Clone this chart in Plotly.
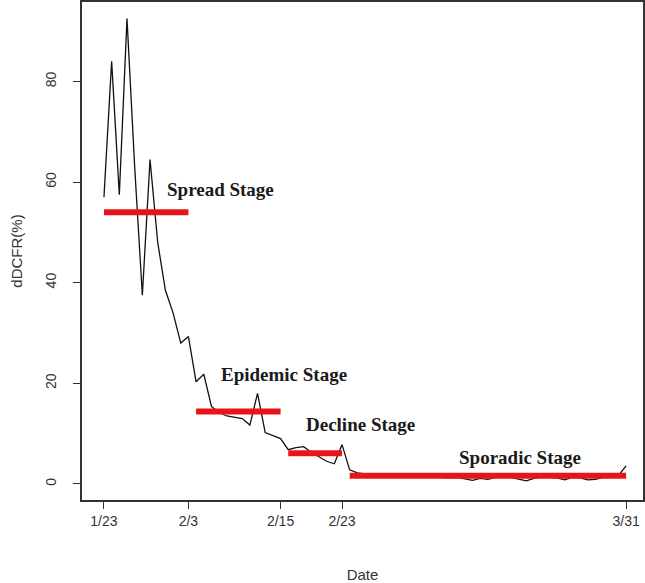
import pandas as pd
import plotly.graph_objects as go

# daily dDCFR(%) from 1/23 to 3/31
start_date = "2020-01-23"
dDCFR = [57, 84, 57.5, 92.5, 63, 37.5, 64.5, 48, 38.5, 34,
         28, 29.3, 20.3, 21.8, 15.4, 14.2, 13.5, 13.3, 13.0, 11.7,
         18, 10.2, 9.6, 9.0, 6.8, 7.2, 7.4, 6.3, 5.4, 4.5,
         4.0, 7.8, 2.8, 2.2, 2.0, 1.8, 1.7, 1.6, 1.5, 1.5,
         1.4, 1.4, 1.3, 1.4, 1.3, 1.2, 1.3, 1.0, 0.7, 1.1,
         0.9, 1.3, 1.4, 1.3, 1.0, 0.6, 1.1, 1.4, 1.3, 1.2,
         0.8, 1.3, 1.2, 0.8, 0.9, 1.3, 1.4, 1.7, 3.6]
dates = pd.date_range(start_date, periods=len(dDCFR), freq="D")

# stages: name, first day, last day, mean level, label position
stage_names = ["Spread Stage", "Epidemic Stage", "Decline Stage", "Sporadic Stage"]
stage_start = ["2020-01-23", "2020-02-04", "2020-02-16", "2020-02-24"]
stage_end = ["2020-02-03", "2020-02-15", "2020-02-23", "2020-03-31"]
stage_level = [54, 14.4, 6.1, 1.6]
label_x = ["2020-01-31", "2020-02-07", "2020-02-18", "2020-03-09"]
label_y = [58.6, 21.8, 11.9, 5.3]

tick_dates = ["2020-01-23", "2020-02-03", "2020-02-15", "2020-02-23", "2020-03-31"]
tick_text = ["1/23", "2/3", "2/15", "2/23", "3/31"]

fig = go.Figure()

fig.add_trace(go.Scatter(x=dates, y=dDCFR, mode="lines",
                         line=dict(color="#111111", width=1.3),
                         showlegend=False))

for s, e, lv in zip(stage_start, stage_end, stage_level):
    fig.add_trace(go.Scatter(x=[s, e], y=[lv, lv], mode="lines",
                             line=dict(color="#e8141b", width=6),
                             showlegend=False))

for name, lx, ly in zip(stage_names, label_x, label_y):
    fig.add_annotation(x=lx, y=ly, text="<b>" + name + "</b>", showarrow=False,
                       xanchor="left", yanchor="middle",
                       font=dict(family="Liberation Serif", size=19, color="#1a1a1a"))

t0 = pd.Timestamp(start_date)
xr = [t0 - pd.Timedelta(hours=2.86 * 24), t0 + pd.Timedelta(hours=70.2 * 24)]

axis_font = dict(family="Liberation Sans", size=14, color="#333333")
fig.update_xaxes(range=xr, tickvals=tick_dates, ticktext=tick_text, automargin=False,
                 showgrid=False, zeroline=False, showline=True, mirror=True,
                 linecolor="#333333", linewidth=1.5,
                 ticks="outside", ticklen=7, tickcolor="#333333",
                 tickfont=axis_font,
                 title=dict(text="Date", font=dict(family="Liberation Sans", size=15, color="#333333"),
                            standoff=42))
fig.update_yaxes(range=[-3.2, 95.8], tickvals=[0, 20, 40, 60, 80], automargin=False,
                 showgrid=False, zeroline=False, showline=True, mirror=True,
                 linecolor="#333333", linewidth=1.5,
                 ticks="outside", ticklen=7, tickcolor="#333333",
                 tickangle=-90, tickfont=axis_font, ticklabelstandoff=12,
                 title=dict(text="dDCFR(%)", font=dict(family="Liberation Sans", size=15, color="#333333"),
                            standoff=16))

fig.update_layout(width=645, height=583, plot_bgcolor="white", paper_bgcolor="white",
                  margin=dict(l=82, r=2, t=2, b=83, autoexpand=False))

# page body has a default 8px margin; drop it so the figure sits at the window corner
fig.write_html("out.html", config={"displayModeBar": False},
               post_script="document.body.style.margin='0';")
